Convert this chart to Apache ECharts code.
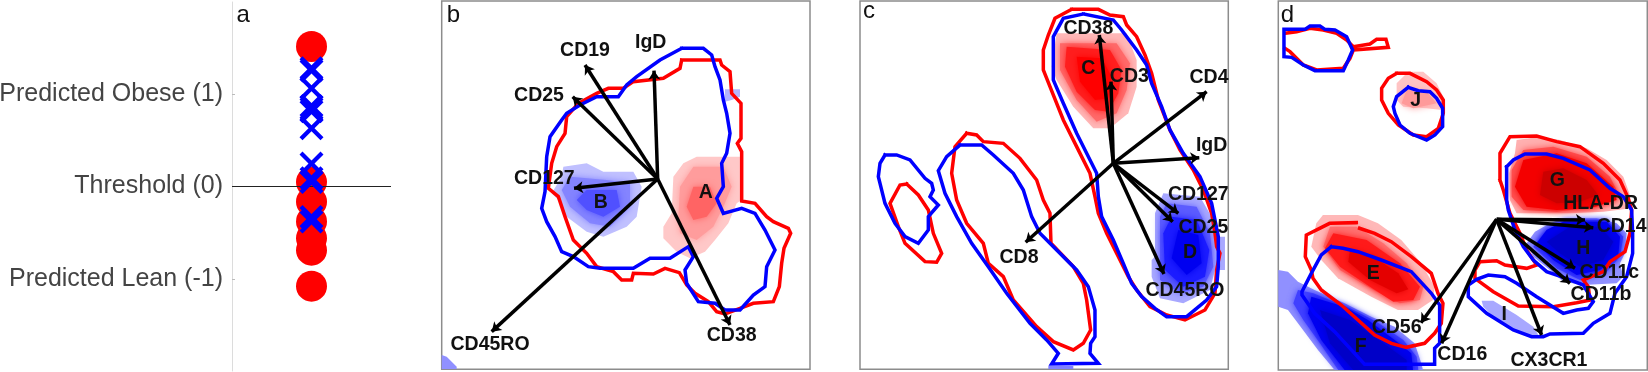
<!DOCTYPE html>
<html><head><meta charset="utf-8">
<style>html,body{margin:0;padding:0;background:#fff}#c{width:1648px;height:372px}</style>
<script src="https://cdn.jsdelivr.net/npm/echarts@6/dist/echarts.min.js"></script>
</head><body><div id="c"></div>
<script>
// Panel a: classifier scores
const aTickValues = [-1, 0, 1];
const aTickLabels = {'-1': 'Predicted Lean (-1)', '0': 'Threshold (0)', '1': 'Predicted Obese (1)'};
const leanScores = [1.517, 0.05, -0.165, -0.38, -0.56, -0.69, -1.08];
const obeseScores = [1.282, 1.257, 1.065, 0.873, 0.845, 0.815, 0.631, 0.25, 0.09, 0.05, -0.33, -0.38];

// Panel b: contours
const bRed = [[755,180],[870,180],[875,195],[900,215],[905,280],[933,310],[933,415],[922,430],[935,455],[935,603],[975,610],[1010,650],[1030,665],[1075,685],[1082,700],[1062,745],[1055,790],[1048,860],[1030,905],[970,910],[930,925],[885,942],[860,935],[835,905],[795,880],[770,855],[748,818],[705,805],[670,822],[610,820],[605,840],[575,840],[550,815],[500,800],[470,760],[430,720],[405,650],[385,590],[355,565],[365,490],[380,440],[405,400],[410,350],[445,310],[500,280],[535,265],[580,265],[610,245],[700,235],[750,205],[755,180]];
const bBlue = [[755,145],[820,145],[845,165],[855,200],[870,240],[880,300],[890,340],[900,400],[890,460],[875,490],[880,560],[860,595],[880,640],[935,625],[975,640],[1005,690],[1035,750],[1010,800],[1005,860],[970,885],[930,930],[885,930],[855,910],[805,905],[770,850],[765,810],[790,770],[775,740],[720,775],[660,775],[610,805],[510,805],[475,800],[430,770],[395,755],[375,710],[350,665],[335,625],[345,575],[350,470],[360,410],[395,360],[410,340],[450,315],[500,290],[565,290],[590,255],[620,230],[690,180],[755,145]];
// Panel b: density levels, outermost first
const bRedDensity = [
 [[800,470],[930,470],[935,600],[920,610],[895,670],[855,720],[825,755],[780,775],[740,755],[700,715],[700,680],[725,640],[730,530],[760,490]],
 [[790,500],[880,500],[905,560],[880,620],[850,680],[800,720],[750,700],[745,650],[750,560]],
 [[790,560],[840,560],[860,610],[830,650],[790,660],[770,620]]];
const bBlueDensity = [
 [[400,500],[470,490],[520,515],[610,515],[635,560],[620,650],[590,680],[520,710],[470,695],[410,650],[385,600],[365,580],[395,530]],
 [[420,530],[530,540],[600,550],[600,620],[540,680],[480,670],[420,620],[395,570]],
 [[470,570],[560,570],[570,620],[520,650],[470,630],[440,600]]];
const bPaleBlue = [[885,268],[930,268],[930,290],[905,300],[885,305]];
const bCorner = [[35,1065],[50,1070],[80,1100],[80,1108],[35,1108]];
const bOrigin = [683,537];
const bArrowEnds = [[465,195],[672,212],[428,290],[432,565],[185,995],[900,975]];
const bLabels = [['CD19',465,153],['IgD',662,128],['CD25',327,287],['CD127',343,535],['CD45RO',180,1033],['CD38',905,1008],['A',827,577],['B',512,607]];

// Panel c: contours
const cRedMain = [[665,28],[745,28],[780,45],[820,50],[830,75],[860,110],[885,165],[905,220],[925,300],[960,390],[990,450],[1030,510],[1060,570],[1085,640],[1095,700],[1100,740],[1110,760],[1100,810],[1095,880],[1065,930],[1005,960],[950,945],[900,920],[860,870],[835,830],[810,780],[770,700],[745,640],[735,590],[720,520],[680,440],[640,360],[600,260],[580,210],[580,150],[595,105],[615,55],[665,28]];
const cBlueMain = [[700,42],[790,60],[815,90],[860,150],[890,195],[905,250],[935,320],[960,390],[1000,460],[1050,530],[1085,610],[1105,710],[1105,800],[1100,860],[1070,900],[1010,950],[950,950],[915,925],[875,890],[845,850],[820,790],[790,720],[755,650],[745,590],[740,520],[710,460],[680,400],[640,310],[610,240],[610,110],[640,55],[700,42]];
const cRedLong = [[350,400],[380,405],[400,425],[460,430],[510,475],[560,540],[580,600],[600,640],[603,730],[670,800],[700,850],[710,900],[722,990],[700,1030],[670,1050],[610,1025],[560,980],[490,900],[460,830],[415,790],[400,730],[350,670],[320,600],[305,520],[315,440],[350,400]];
const cBlueLong = [[330,435],[395,435],[430,465],[490,520],[520,570],[545,650],[570,700],[620,750],[680,810],[715,860],[735,930],[735,1010],[722,1030],[720,1060],[745,1090],[605,1092],[625,1060],[590,1020],[540,970],[470,880],[415,800],[365,730],[320,650],[285,580],[265,512],[290,470],[330,435]];
const cRedSmall = [[170,552],[205,585],[235,630],[250,700],[275,760],[260,787],[225,785],[165,730],[145,680],[120,610],[150,555],[170,552]];
const cBlueSmall = [[105,465],[140,465],[180,480],[225,535],[245,550],[250,570],[240,590],[265,615],[235,650],[235,690],[205,730],[165,710],[135,670],[105,610],[85,530],[90,490],[105,465]];
const cRedDensity = [
 [[620,100],[830,100],[860,180],[860,260],[835,340],[780,385],[730,385],[670,320],[620,240],[605,200]],
 [[630,130],[800,130],[840,190],[830,270],[800,340],[740,365],[680,300],[630,210]],
 [[650,140],[780,150],[815,210],[805,280],[775,335],[735,330],[680,275],[645,200]],
 [[680,170],[755,175],[785,230],[775,295],[735,300],[690,245]]];
const cBlueDensity = [
 [[940,580],[1050,590],[1085,650],[1095,710],[1125,710],[1125,810],[1095,810],[1080,870],[1000,910],[930,895],[905,830],[905,780],[915,770],[915,640]],
 [[950,610],[1040,620],[1080,700],[1090,800],[1060,860],[990,880],[930,840],[930,650]],
 [[965,650],[1040,660],[1078,750],[1065,830],[1000,860],[945,810],[940,700]],
 [[985,690],[1045,705],[1055,790],[1010,825],[965,775]]];
const cFoot = [[595,1098],[670,1098],[670,1108],[595,1108]];
const cOrigin = [790,490];
const cArrowEnds = [[748,105],[783,245],[1070,275],[1048,473],[985,640],[968,665],[942,822],[527,727]];
const cLabels = [['CD38',715,87],['C',715,205],['CD3',838,230],['CD4',1077,232],['IgD',1085,437],['CD127',1045,583],['CD25',1060,682],['D',1020,757],['CD45RO',1005,872],['CD8',507,772]];

// Panel d: contours
const dRedTop = [[45,100],[80,95],[120,85],[160,90],[200,100],[230,120],[250,140],[300,132],[320,118],[348,118],[355,142],[250,150],[240,175],[220,205],[140,210],[100,195],[60,155],[45,145]];
const dBlueTop = [[42,88],[105,88],[120,78],[150,78],[165,88],[195,90],[230,110],[248,150],[235,180],[220,212],[135,212],[100,195],[65,172],[42,170],[42,88]];
const dRedJ = [[380,220],[420,220],[470,245],[500,270],[520,300],[520,340],[505,385],[470,410],[430,405],[385,375],[355,340],[335,300],[335,265],[355,235],[380,220]];
const dBlueJ = [[415,262],[445,272],[480,275],[500,295],[518,325],[518,380],[495,405],[470,420],[420,400],[390,375],[375,340],[370,320],[380,290],[415,262]];
const dRedG = [[690,540],[690,460],[720,410],[800,408],[860,425],[930,440],[1000,490],[1050,540],[1075,595],[1085,630],[1080,700],[1065,755],[1020,785],[1000,815],[940,840],[955,860],[960,900],[920,908],[850,920],[745,918],[670,875],[615,835],[615,810],[630,785],[680,782],[705,795],[770,805],[800,795],[770,750],[750,700],[720,640],[700,570],[690,540]];
const dBlueG = [[710,500],[730,480],[765,462],[830,462],[880,475],[960,510],[1020,565],[1060,590],[1085,630],[1088,700],[1088,760],[1070,830],[1035,880],[1020,940],[970,970],[940,1000],[840,1002],[820,1010],[785,1010],[730,990],[650,940],[595,890],[595,855],[620,838],[655,825],[705,830],[740,850],[800,890],[880,940],[920,930],[955,925],[970,905],[940,855],[880,832],[830,815],[790,780],[760,740],[735,690],[715,630],[710,600],[710,500]];
const dRedE = [[259,668],[179,670],[149,685],[109,705],[106,770],[124,810],[129,835],[154,870],[214,915],[264,960],[314,1005],[364,1030],[409,1042],[464,1030],[494,1000],[514,970],[519,910],[504,880],[484,820],[424,770],[364,725],[314,700],[269,685]];
const dBlueE = [[184,740],[219,745],[264,755],[334,780],[424,815],[484,880],[509,915],[509,1030],[494,1045],[494,1093],[284,1093],[194,995],[134,940],[96,885],[96,875],[124,820],[154,765],[184,740]];
const dRedDensity = [
 [[740,420],[810,410],[870,420],[950,445],[1010,480],[1060,530],[1078,580],[1085,625],[1000,635],[900,640],[800,640],[740,640],[720,600],[718,520],[735,460]],
 [[760,450],[850,440],[950,470],[1020,530],[1050,590],[980,620],[860,635],[760,630],[725,590],[725,510]],
 [[760,480],[860,460],[950,490],[1030,560],[1040,600],[960,625],[860,630],[770,620],[735,560]],
 [[820,515],[880,505],[950,540],[985,585],[930,605],[860,610],[810,585]]];
const dRedDensityE = [
 [[159,645],[264,645],[324,670],[394,720],[454,790],[494,860],[489,900],[444,930],[384,930],[304,890],[204,835],[154,780],[124,740],[139,670]],
 [[180,680],[260,680],[340,730],[410,790],[460,860],[450,900],[390,910],[310,870],[210,810],[160,740]],
 [[190,700],[290,720],[390,790],[450,860],[430,900],[370,905],[300,860],[210,800],[165,745]],
 [[240,750],[310,770],[385,820],[415,868],[380,880],[300,840],[235,785]]];
const dRedDensityJ = [
 [[415,215],[460,215],[500,250],[520,290],[515,330],[470,325],[400,320],[380,300],[380,250]],
 [[410,270],[470,275],[500,310],[430,325],[395,310]]];
const dBlueDensityH = [
 [[880,655],[980,655],[1040,670],[1070,700],[1065,760],[1050,790],[1060,830],[1040,850],[940,855],[880,845],[840,810],[790,770],[770,730],[795,695],[840,670]],
 [[890,660],[1010,660],[1060,710],[1050,770],[1010,815],[930,840],[860,805],[790,740],[830,690]],
 [[880,665],[1010,665],[1050,710],[1045,765],[990,810],[920,825],[850,780],[800,730],[830,690]],
 [[900,680],[990,680],[1030,725],[1000,780],[930,800],[870,760],[830,725]]];
const dBlueDensityF = [
 [[25,810],[54,815],[84,845],[134,870],[224,910],[304,950],[374,980],[434,1030],[454,1090],[459,1110],[194,1110],[144,1050],[84,970],[54,930],[25,920]],
 [[84,870],[130,880],[240,925],[320,965],[400,1020],[440,1070],[445,1110],[205,1110],[150,1030],[100,960],[70,910]],
 [[124,890],[224,920],[294,960],[374,1020],[424,1060],[429,1110],[224,1110],[154,1020],[114,940]],
 [[150,930],[240,960],[340,1030],[410,1080],[410,1110],[250,1110],[180,1030]]];
const dBlueDensityI = [[635,902],[670,902],[740,945],[790,980],[805,1005],[775,1010],[720,980],[670,950],[640,920]];
const dOrigin = [680,658];
const dArrowEnds = [[945,660],[970,683],[915,805],[900,850],[815,1005],[453,968],[515,1030]];
const dLabels = [['HLA-DR',992,612],['CD14',1055,680],['CD11c',1018,817],['CD11b',993,883],['CD56',380,982],['CD16',577,1063],['CX3CR1',837,1083],['E',310,820],['F',272,1040],['G',862,543],['H',940,745],['I',703,945],['J',437,303]];

// Colours
const RED_LEVELS = ['#ffb0b0','#ff5050','#f40000','#cc0000'];
const RED_LEVELS_E = ['#ffb8b8','#ff7070','#ff1a1a','#e40000'];
const BLUE_LEVELS = ['#9090ff','#4040ff','#0000f0','#0000c8'];
const RED_SOFT = ['#ffc8c8','#ff9c9c','#ff6464'];
const BLUE_SOFT = ['#c0c0ff','#8484ff','#5050ff'];
const RED_BRIGHT = ['#ffb8b8','#ff6a6a','#ff1e1e','#ff0000'];
const BLUE_BRIGHT = ['#a8a8ff','#5c5cff','#1c1cff','#0000f0'];

const X_PATH = 'path://M2.5,0 L10,7.5 L17.5,0 L20,2.5 L12.5,10 L20,17.5 L17.5,20 L10,12.5 L2.5,20 L0,17.5 L7.5,10 L0,2.5 Z';

function polygonSeries(panel, levels, colors) {
  return levels.map((pts, i) => ({
    type: 'custom', xAxisIndex: panel, yAxisIndex: panel, silent: true, clip: true, z: 2 + i * 0.01,
    data: [0],
    renderItem: (p, api) => ({
      type: 'polygon',
      shape: { points: pts.map(q => api.coord(q)) },
      style: { fill: colors[i], shadowBlur: i ? 7 : 0, shadowColor: colors[i] }
    })
  }));
}
function contour(panel, pts, color) {
  return { type: 'line', xAxisIndex: panel, yAxisIndex: panel, data: pts, showSymbol: false, silent: true, z: color === '#0000ff' ? 4 : 3,
    lineStyle: { color, width: 3.5, join: 'miter', cap: 'square' } };
}
function arrows(panel, origin, ends) {
  return { type: 'lines', coordinateSystem: 'cartesian2d', xAxisIndex: panel, yAxisIndex: panel, z: 5, silent: true,
    symbol: ['none', 'arrow'], symbolSize: 9,
    lineStyle: { color: '#000', width: 3.5, opacity: 1, curveness: 0 },
    data: ends.map(e => ({ coords: [origin, e] })) };
}
const transparentMark = { color: 'transparent', opacity: 1 };
function labels(panel, rows) {
  return { type: 'scatter', xAxisIndex: panel, yAxisIndex: panel, z: 6, silent: true, symbolSize: 1,
    itemStyle: transparentMark,
    data: rows.map(r => ({ name: r[0], value: [r[1], r[2]] })),
    label: { show: true, position: 'inside', formatter: '{b}', fontFamily: 'Liberation Sans', fontWeight: 'bold', fontSize: 19.5, color: '#111', textBorderWidth: 0, opacity: 1 } };
}
function letter(panel, ch, x, y) {
  return { type: 'scatter', xAxisIndex: panel, yAxisIndex: panel, z: 6, silent: true, symbolSize: 1,
    itemStyle: transparentMark,
    data: [{ name: ch, value: [x, y] }],
    label: { show: true, position: 'inside', formatter: '{b}', fontFamily: 'Liberation Sans', fontSize: 24, color: '#111', textBorderWidth: 0, opacity: 1 } };
}

const panelGrid = (left, width, height) => ({ left, top: 1, width, height, show: true, backgroundColor: '#fff', borderColor: '#8c8c8c', borderWidth: 1.5, outerBoundsMode: 'none' });
const hiddenAxis = (gridIndex, min, max, inverse) => ({ type: 'value', gridIndex, min, max, inverse: !!inverse, show: false });

const series = [
  // panel a
  { type: 'scatter', data: leanScores.map(v => [0.5, v]), symbol: 'circle', symbolSize: 31, itemStyle: { color: '#ff0000', opacity: 1 }, z: 2, silent: true },
  { type: 'line', data: [[0, 0], [1, 0]], showSymbol: false, lineStyle: { color: '#222', width: 1 }, z: 3, silent: true },
  { type: 'scatter', data: obeseScores.map(v => [0.5, v]), symbol: X_PATH, symbolSize: 24, itemStyle: { color: '#0000ff', opacity: 1 }, z: 4, silent: true },
  {
    type: 'scatter', data: [{ name: 'a', value: [0.07, 1.85] }], symbolSize: 1, itemStyle: transparentMark, silent: true, z: 6,
    label: { show: true, position: 'inside', formatter: '{b}', fontFamily: 'Liberation Sans', fontSize: 24, color: '#111', textBorderWidth: 0, opacity: 1 }
  },
  // panel b
  ...polygonSeries(1, bRedDensity, RED_SOFT),
  ...polygonSeries(1, bBlueDensity, BLUE_SOFT),
  ...polygonSeries(1, [bPaleBlue], ['#b4b4ff']),
  ...polygonSeries(1, [bCorner], ['#9090ff']),
  contour(1, bRed, '#ff0000'), contour(1, bBlue, '#0000ff'),
  arrows(1, bOrigin, bArrowEnds), labels(1, bLabels), letter(1, 'b', 70, 47),
  // panel c
  ...polygonSeries(2, cRedDensity, RED_BRIGHT),
  ...polygonSeries(2, cBlueDensity, BLUE_BRIGHT),
  ...polygonSeries(2, [cFoot], ['#8080ff']),
  contour(2, cRedMain, '#ff0000'), contour(2, cBlueMain, '#0000ff'),
  contour(2, cRedLong, '#ff0000'), contour(2, cBlueLong, '#0000ff'),
  contour(2, cRedSmall, '#ff0000'), contour(2, cBlueSmall, '#0000ff'),
  arrows(2, cOrigin, cArrowEnds), labels(2, cLabels), letter(2, 'c', 57, 35),
  // panel d
  ...polygonSeries(3, dRedDensity, RED_LEVELS),
  ...polygonSeries(3, dRedDensityE, RED_LEVELS_E),
  ...polygonSeries(3, dRedDensityJ, ['#ffc4c4', '#ff9a9a']),
  ...polygonSeries(3, dBlueDensityH, BLUE_LEVELS),
  ...polygonSeries(3, dBlueDensityF, BLUE_LEVELS),
  ...polygonSeries(3, [dBlueDensityI], ['#a8a8ff']),
  contour(3, dRedTop, '#ff0000'), contour(3, dBlueTop, '#0000ff'),
  contour(3, dRedJ, '#ff0000'), contour(3, dBlueJ, '#0000ff'),
  contour(3, dRedG, '#ff0000'), contour(3, dBlueG, '#0000ff'),
  contour(3, dRedE, '#ff0000'), contour(3, dBlueE, '#0000ff'),
  arrows(3, dOrigin, dArrowEnds), labels(3, dLabels), letter(3, 'd', 52, 47)
];

const chart = echarts.init(document.getElementById('c'), null, { renderer: 'canvas' });
chart.setOption({
  animation: false,
  backgroundColor: '#fff',
  grid: [
    { left: 232, top: 2, width: 159, height: 369, outerBoundsMode: 'none' },
    panelGrid(441.7, 368.3, 368.3),
    panelGrid(860, 368.3, 368.3),
    panelGrid(1278.3, 369, 369)
  ],
  xAxis: [
    { type: 'value', gridIndex: 0, min: 0, max: 1, show: false },
    hiddenAxis(1, 35, 1140), hiddenAxis(2, 30, 1135), hiddenAxis(3, 25, 1132)
  ],
  yAxis: [
    { type: 'value', gridIndex: 0, min: -2, max: 2, interval: 1,
      axisLine: { show: true, lineStyle: { color: '#dcdcdc', width: 1 } },
      axisTick: { show: true, inside: true, length: 3, lineStyle: { color: '#bbb' }, customValues: aTickValues },
      splitLine: { show: false },
      axisLabel: { customValues: aTickValues, margin: 9, fontFamily: 'Liberation Sans', fontSize: 25, color: '#444',
        formatter: v => aTickLabels[String(v)] || '' } },
    hiddenAxis(1, 3, 1108, true), hiddenAxis(2, 3, 1108, true), hiddenAxis(3, 3, 1110, true)
  ],
  series
});
</script></body></html>
